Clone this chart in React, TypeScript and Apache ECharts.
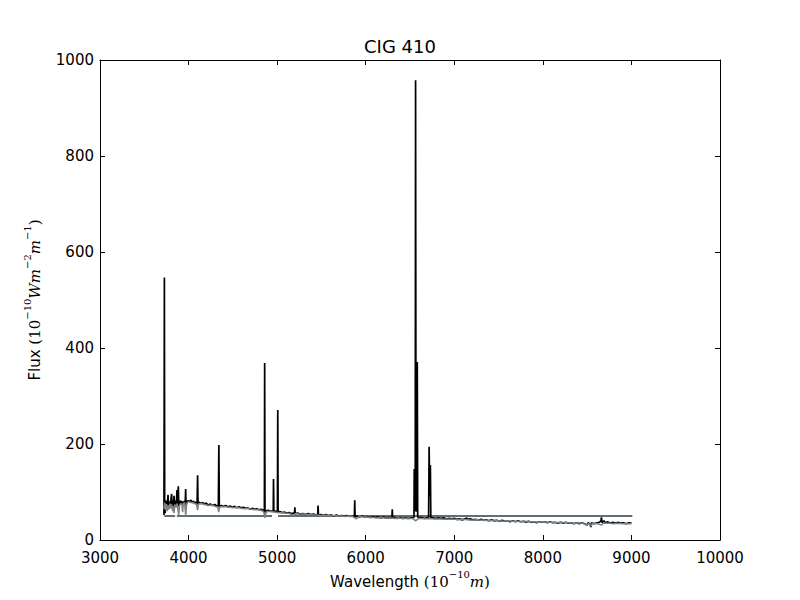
import React, { useEffect, useRef } from "react";
import * as echarts from "echarts";

// Observed spectrum [wavelength (Å), flux]
const observedSpectrum: [number, number][] = [
  [3722, 52], [3724, 225], [3727, 547], [3730, 78], [3735, 56], [3742, 74], [3750, 82], [3758, 66],
  [3768, 94], [3772, 70], [3780, 80], [3790, 72], [3800, 84], [3809, 96], [3814, 70], [3822, 82],
  [3830, 68], [3836, 92], [3842, 70], [3852, 82], [3862, 72], [3869, 104], [3874, 74], [3884, 112],
  [3890, 70], [3900, 78], [3912, 82], [3925, 74], [3935, 80], [3945, 76], [3955, 82], [3962, 74],
  [3967, 106], [3972, 72], [3982, 80], [3995, 82], [4010, 80], [4025, 83], [4040, 78], [4055, 81],
  [4070, 77], [4085, 79], [4096, 76], [4102, 135], [4107, 74], [4120, 79], [4140, 76], [4160, 78],
  [4180, 75], [4200, 77], [4220, 73], [4245, 75], [4270, 72], [4295, 74], [4320, 71], [4336, 72],
  [4342, 198], [4347, 68], [4370, 72], [4395, 70], [4420, 72], [4445, 69], [4470, 71], [4495, 68],
  [4520, 70], [4545, 67], [4570, 69], [4595, 67], [4620, 68], [4645, 66], [4670, 67], [4695, 64],
  [4720, 66], [4745, 64], [4770, 65], [4795, 63], [4820, 64], [4842, 62], [4856, 58], [4859, 369],
  [4863, 52], [4875, 61], [4900, 62], [4925, 60], [4950, 61], [4956, 60], [4959, 127], [4963, 59],
  [4985, 60], [5003, 58], [5007, 271], [5011, 58], [5035, 59], [5060, 57], [5085, 58], [5110, 56],
  [5135, 57], [5160, 55], [5185, 56], [5196, 55], [5200, 68], [5204, 55], [5230, 56], [5260, 54],
  [5290, 55], [5320, 53], [5350, 55], [5380, 53], [5410, 54], [5440, 52], [5458, 53], [5462, 72],
  [5466, 52], [5490, 53], [5520, 52], [5550, 53], [5580, 51], [5610, 52], [5640, 50], [5670, 52],
  [5700, 50], [5730, 51], [5760, 50], [5790, 51], [5820, 49], [5850, 50], [5872, 49], [5876, 83],
  [5880, 48], [5900, 50], [5930, 48], [5960, 50], [5990, 48], [6020, 49], [6050, 47], [6080, 49],
  [6110, 47], [6140, 48], [6170, 46], [6200, 48], [6230, 46], [6260, 47], [6290, 46], [6296, 47],
  [6300, 64], [6304, 46], [6330, 47], [6360, 45], [6390, 47], [6420, 45], [6450, 46], [6480, 45],
  [6510, 46], [6535, 46], [6545, 48], [6548, 148], [6552, 60], [6559, 62], [6563, 958], [6568, 62],
  [6577, 60], [6582, 371], [6587, 48], [6600, 46], [6630, 47], [6660, 45], [6690, 46], [6710, 47],
  [6716, 194], [6722, 90], [6730, 156], [6735, 46], [6760, 46], [6790, 45], [6820, 46], [6850, 45],
  [6880, 46], [6910, 44], [6940, 45], [6970, 44], [7000, 45], [7030, 43], [7060, 44], [7090, 42],
  [7120, 44], [7140, 46], [7150, 43], [7180, 44], [7210, 42], [7240, 43], [7270, 41], [7300, 43],
  [7330, 41], [7360, 42], [7390, 40], [7420, 42], [7450, 40], [7480, 41], [7510, 39], [7540, 41],
  [7570, 39], [7600, 40], [7630, 38], [7660, 40], [7690, 38], [7720, 40], [7750, 38], [7780, 39],
  [7810, 37], [7840, 39], [7870, 37], [7900, 38], [7930, 36], [7960, 38], [7990, 37], [8020, 38],
  [8050, 36], [8080, 38], [8110, 36], [8140, 37], [8170, 35], [8200, 37], [8230, 35], [8260, 37],
  [8290, 35], [8320, 36], [8350, 34], [8380, 36], [8410, 34], [8440, 36], [8470, 34], [8498, 31],
  [8510, 36], [8530, 34], [8542, 27], [8552, 36], [8580, 34], [8610, 36], [8640, 37], [8655, 40],
  [8662, 47], [8668, 36], [8690, 40], [8710, 35], [8730, 38], [8760, 35], [8790, 37], [8820, 35],
  [8850, 37], [8880, 35], [8910, 36], [8940, 34], [8970, 36], [9000, 35],
];

// Model / fitted spectrum [wavelength (Å), flux]
const modelSpectrum: [number, number][] = [
  [3722, 65], [3730, 78], [3740, 62], [3750, 75], [3760, 60], [3770, 72], [3780, 64], [3790, 76],
  [3800, 66], [3810, 74], [3820, 60], [3828, 70], [3835, 56], [3845, 74], [3860, 68], [3870, 76],
  [3880, 64], [3889, 52], [3898, 72], [3910, 76], [3925, 74], [3933, 58], [3940, 76], [3955, 78],
  [3968, 50], [3978, 76], [4000, 80], [4030, 78], [4060, 77], [4090, 74], [4101, 62], [4112, 75],
  [4140, 76], [4180, 74], [4220, 72], [4260, 73], [4300, 70], [4330, 68], [4340, 58], [4350, 69],
  [4390, 70], [4430, 69], [4470, 68], [4510, 67], [4550, 68], [4590, 66], [4630, 65], [4670, 66],
  [4710, 64], [4750, 63], [4790, 63], [4830, 61], [4850, 58], [4861, 46], [4872, 58], [4900, 60],
  [4940, 59], [4980, 58], [5020, 57], [5060, 57], [5100, 56], [5140, 55], [5175, 52], [5210, 55],
  [5250, 54], [5290, 54], [5330, 53], [5370, 53], [5410, 52], [5450, 52], [5490, 51], [5530, 52],
  [5570, 51], [5610, 50], [5650, 51], [5690, 50], [5730, 50], [5770, 49], [5810, 50], [5850, 49],
  [5892, 44], [5930, 49], [5970, 48], [6010, 48], [6050, 47], [6090, 47], [6130, 46], [6170, 47],
  [6210, 46], [6250, 46], [6290, 46], [6330, 45], [6370, 46], [6410, 45], [6450, 45], [6490, 45],
  [6530, 45], [6563, 40], [6600, 45], [6640, 45], [6680, 44], [6720, 45], [6760, 44], [6800, 44],
  [6840, 44], [6880, 43], [6920, 44], [6960, 43], [7000, 43], [7050, 42], [7100, 43], [7150, 42],
  [7200, 41], [7250, 42], [7300, 41], [7350, 41], [7400, 40], [7450, 41], [7500, 40], [7550, 39],
  [7600, 40], [7650, 39], [7700, 39], [7750, 38], [7800, 39], [7850, 38], [7900, 38], [7950, 37],
  [8000, 38], [8050, 37], [8100, 37], [8150, 36], [8200, 37], [8250, 36], [8300, 36], [8350, 35],
  [8400, 36], [8450, 35], [8498, 31], [8520, 35], [8542, 29], [8560, 35], [8620, 34], [8662, 31],
  [8680, 35], [8750, 35], [8800, 34], [8850, 35], [8900, 34], [8950, 34], [9000, 34],
];

// Flat reference level, with its gaps
const referenceLevel: [number, number | string][] = [
  [3725, 50], [3848, 50], [3858, "-"], [3868, 50], [4942, 50], [4975, "-"], [5010, 50], [9010, 50],
];

const xTicks = { min: 3000, max: 10000, interval: 1000 };
const yTicks = { min: 0, max: 1000, interval: 200 };

const SANS = "DejaVu Sans";
const SERIF = "DejaVu Serif";

export default function App() {
  const ref = useRef<HTMLDivElement>(null);

  useEffect(() => {
    if (!ref.current) return;
    const chart = echarts.init(ref.current, undefined, { renderer: "svg" });

    const rich = {
      t: { fontFamily: SANS, fontSize: 15, color: "#000", lineHeight: 20, verticalAlign: "bottom" },
      m: { fontFamily: SERIF, fontSize: 15, color: "#000", lineHeight: 20, verticalAlign: "bottom" },
      i: { fontFamily: SERIF, fontStyle: "italic", fontSize: 15, color: "#000", lineHeight: 20, verticalAlign: "bottom" },
      s: { fontFamily: SERIF, fontSize: 10, color: "#000", lineHeight: 16, verticalAlign: "top" },
    };

    const plain = (v: number) => String(v);

    const baseX = {
      type: "value",
      min: xTicks.min,
      max: xTicks.max,
      interval: xTicks.interval,
      splitLine: { show: false },
      axisLine: { show: true, onZero: false, lineStyle: { color: "#000", width: 1 } },
      axisTick: { show: true, inside: true, length: 5, lineStyle: { color: "#000" } },
    };
    const baseY = {
      type: "value",
      min: yTicks.min,
      max: yTicks.max,
      interval: yTicks.interval,
      splitLine: { show: false },
      axisLine: { show: true, onZero: false, lineStyle: { color: "#000", width: 1 } },
      axisTick: { show: true, inside: true, length: 5, lineStyle: { color: "#000" } },
    };

    chart.setOption({
      animation: false,
      backgroundColor: "#fff",
      title: {
        text: "CIG 410",
        left: "center",
        top: 32,
        textStyle: { fontFamily: SANS, fontSize: 18, fontWeight: "normal", color: "#000" },
      },
      grid: { left: 100, right: 80, top: 60, bottom: 60, containLabel: false },
      xAxis: [
        {
          ...baseX,
          position: "bottom",
          axisLabel: { fontFamily: SANS, fontSize: 15, lineHeight: 15, color: "#000", margin: 10, formatter: plain },
          name: "{t|Wavelength }{m|(10}{s|−10}{i|m}{m|)}",
          nameLocation: "middle",
          nameGap: 29,
          nameTextStyle: { rich },
        },
        { ...baseX, position: "top", axisLabel: { show: false } },
      ],
      yAxis: [
        {
          ...baseY,
          position: "left",
          axisLabel: { fontFamily: SANS, fontSize: 15, lineHeight: 14, color: "#000", margin: 6, formatter: plain },
          name: "{t|Flux }{m|(10}{s|−10}{i|Wm}{s|−2}{i|m}{s|−1}{m|)}",
          nameLocation: "middle",
          nameRotate: 90,
          nameGap: 58,
          nameTextStyle: { rich },
        },
        { ...baseY, position: "right", axisLabel: { show: false } },
      ],
      series: [
        {
          type: "line",
          data: observedSpectrum,
          symbol: "none",
          showSymbol: false,
          lineStyle: { color: "#000", width: 1.7, join: "bevel" },
          silent: true,
          z: 2,
        },
        {
          type: "line",
          data: modelSpectrum,
          symbol: "none",
          showSymbol: false,
          lineStyle: { color: "#808080", width: 1.5, join: "bevel" },
          silent: true,
          z: 3,
        },
        {
          type: "line",
          data: referenceLevel,
          symbol: "none",
          showSymbol: false,
          connectNulls: false,
          lineStyle: { color: "#5f6f78", width: 2 },
          silent: true,
          z: 1,
        },
      ],
    });

    return () => chart.dispose();
  }, []);

  return (
    <div
      ref={ref}
      style={{ position: "fixed", left: 0, top: 0, width: 800, height: 600, background: "#fff" }}
    />
  );
}
